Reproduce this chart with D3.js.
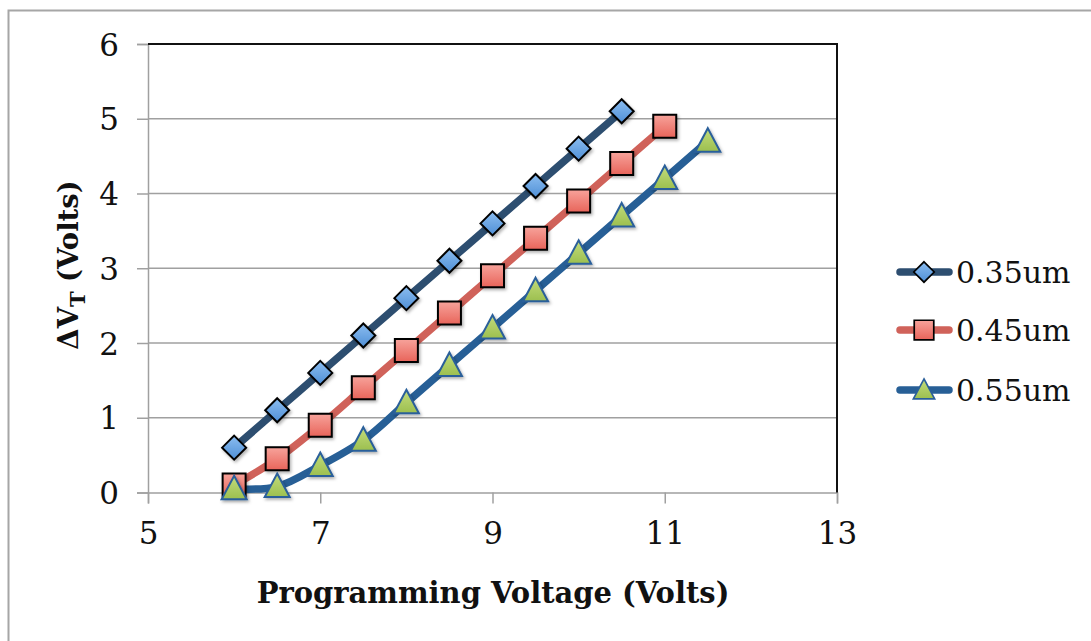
<!DOCTYPE html>
<html><head><meta charset="utf-8">
<script src="https://cdn.jsdelivr.net/npm/d3@7"></script>
<style>body{margin:0;background:#fff;} svg{display:block;}</style>
</head><body>
<svg id="c" width="1091" height="641"></svg>
<script>
const xTicks = [5, 7, 9, 11, 13];
const yTicks = [0, 1, 2, 3, 4, 5, 6];
const seriesNames = ["0.35um", "0.45um", "0.55um"];
const x035 = [6, 6.5, 7, 7.5, 8, 8.5, 9, 9.5, 10, 10.5];
const y035 = [0.6, 1.1, 1.6, 2.1, 2.6, 3.1, 3.6, 4.1, 4.6, 5.1];
const x045 = [6, 6.5, 7, 7.5, 8, 8.5, 9, 9.5, 10, 10.5, 11];
const y045 = [0.1, 0.45, 0.9, 1.4, 1.9, 2.4, 2.9, 3.4, 3.9, 4.4, 4.9];
const x055 = [6, 6.5, 7, 7.5, 8, 8.5, 9, 9.5, 10, 10.5, 11, 11.5];
const y055 = [0.05, 0.08, 0.36, 0.7, 1.2, 1.7, 2.2, 2.7, 3.2, 3.7, 4.2, 4.7];
const xTitle = "Programming Voltage (Volts)";

const svg = d3.select("#c");
const L = 148, R = 837, T = 44, B = 492.5;
const x = d3.scaleLinear().domain([5, 13]).range([L, R]);
const y = d3.scaleLinear().domain([0, 6]).range([B, T]);

// outer border
svg.append("path").attr("d", `M8.5,660 V10.5 H1100`).attr("fill", "none").attr("stroke", "#a6a6a6").attr("stroke-width", 2);

const defs = svg.append("defs");
function grad(id, c1, c2) {
  const g = defs.append("linearGradient").attr("id", id).attr("x1", 0).attr("y1", 0).attr("x2", 0).attr("y2", 1);
  g.append("stop").attr("offset", "0%").attr("stop-color", c1);
  g.append("stop").attr("offset", "100%").attr("stop-color", c2);
}
grad("gD", "#8bbdf0", "#4f8fd6");
grad("gS", "#f7a39b", "#e8645a");
grad("gT", "#c3dc7c", "#9cbf4f");
const f = defs.append("filter").attr("id", "sh").attr("x", "-50%").attr("y", "-50%").attr("width", "200%").attr("height", "200%");
f.append("feDropShadow").attr("dx", 1.5).attr("dy", 2).attr("stdDeviation", 1.5).attr("flood-color", "#000").attr("flood-opacity", 0.3);

// gridlines
svg.append("g").selectAll("line").data(yTicks.filter(d => d > 0 && d < 6)).join("line")
  .attr("x1", L).attr("x2", R).attr("y1", d => y(d)).attr("y2", d => y(d))
  .attr("stroke", "#a0a0a0").attr("stroke-width", 1.5);

// axes
const yAxis = d3.axisLeft(y).tickValues(yTicks).tickSize(11).tickPadding(18).tickFormat(d3.format("d"));
const gy = svg.append("g").attr("transform", `translate(${L},0)`).call(yAxis);
const xAxis = d3.axisBottom(x).tickValues(xTicks).tickSize(11).tickPadding(18).tickFormat(d3.format("d"));
const gx = svg.append("g").attr("transform", `translate(0,${B})`).call(xAxis);
[gx, gy].forEach(g => {
  g.select(".domain").attr("stroke", "#a0a0a0").attr("stroke-width", 1.5);
  g.selectAll(".tick line").attr("stroke", "#a0a0a0").attr("stroke-width", 1.5);
  g.selectAll(".tick text").attr("fill", "#111").style("font-family", "'DejaVu Serif', serif").style("font-size", "31px");
});
gy.selectAll(".tick text").attr("dy", "0.36em");
gx.selectAll(".tick text").attr("dy", "0.72em");
// top/right black border
svg.append("path").attr("d", `M${L},${T} H${R} V${B}`).attr("fill", "none").attr("stroke", "#111").attr("stroke-width", 2);

const series = [
  {name: seriesNames[0], xs: x035, ys: y035, line: "#2d4e70", shape: "diamond", fill: "url(#gD)", stroke: "#000"},
  {name: seriesNames[1], xs: x045, ys: y045, line: "#d0625a", shape: "square", fill: "url(#gS)", stroke: "#000"},
  {name: seriesNames[2], xs: x055, ys: y055, line: "#275f96", shape: "triangle", fill: "url(#gT)", stroke: "#2a5f9a"}
];
const lineGen = d3.line().x(d => x(d[0])).y(d => y(d[1])).curve(d3.curveCatmullRom.alpha(0.5));

function marker(g, shape, fill, stroke) {
  let p;
  if (shape === "diamond") p = "M0,-12 L12,0 L0,12 L-12,0 Z";
  else if (shape === "square") p = "M-11.5,-11.5 H11.5 V11.5 H-11.5 Z";
  else p = "M0,-13 L12.5,10.5 L-12.5,10.5 Z";
  g.append("path").attr("d", p).attr("fill", fill).attr("stroke", stroke).attr("stroke-width", 2).attr("stroke-linejoin", "miter");
}

series.forEach(s => {
  const pts = s.xs.map((v, i) => [v, s.ys[i]]);
  svg.append("path").datum(pts).attr("d", lineGen).attr("fill", "none")
    .attr("stroke", s.line).attr("stroke-width", 7.5).attr("stroke-linecap", "round");
});
series.forEach(s => {
  const pts = s.xs.map((v, i) => [v, s.ys[i]]);
  const mg = svg.append("g").attr("filter", "url(#sh)");
  pts.forEach(p => {
    const g = mg.append("g").attr("transform", `translate(${x(p[0])},${y(p[1])})`);
    marker(g, s.shape, s.fill, s.stroke);
  });
});

// legend
const legY = [272, 330, 390];
series.forEach((s, i) => {
  const g = svg.append("g").attr("transform", `translate(0,${legY[i]})`);
  g.append("line").attr("x1", 900).attr("x2", 949).attr("y1", 0).attr("y2", 0)
    .attr("stroke", s.line).attr("stroke-width", 7.5).attr("stroke-linecap", "round");
  const mg = g.append("g").attr("transform", "translate(924,0) scale(0.85)");
  marker(mg, s.shape, s.fill, s.stroke);
  const t = g.append("text").attr("x", 956).attr("y", 0).attr("dy", "0.36em")
    .style("font-family", "'DejaVu Serif', serif").style("font-size", "30px").attr("fill", "#111").text(s.name);
});

// axis titles
const xt = svg.append("text").attr("x", 493).attr("y", 603).attr("text-anchor", "middle")
  .style("font-family", "'DejaVu Serif', serif").style("font-weight", "bold").style("font-size", "32px").attr("fill", "#111").text(xTitle);
const w = xt.node().getComputedTextLength();
xt.style("font-size", (32 * 473 / w) + "px");

const yt = svg.append("text").attr("transform", "translate(78,265) rotate(-90)").attr("text-anchor", "middle")
  .style("font-family", "'DejaVu Serif', serif").style("font-weight", "bold").style("font-size", "30px").attr("fill", "#111");
yt.append("tspan").text("ΔV");
yt.append("tspan").attr("dy", 7).style("font-size", "21px").text("T");
yt.append("tspan").attr("dy", -7).text(" (Volts)");
const wy = yt.node().getComputedTextLength();
yt.style("font-size", (30 * 168 / wy) + "px");
</script>
</body></html>
